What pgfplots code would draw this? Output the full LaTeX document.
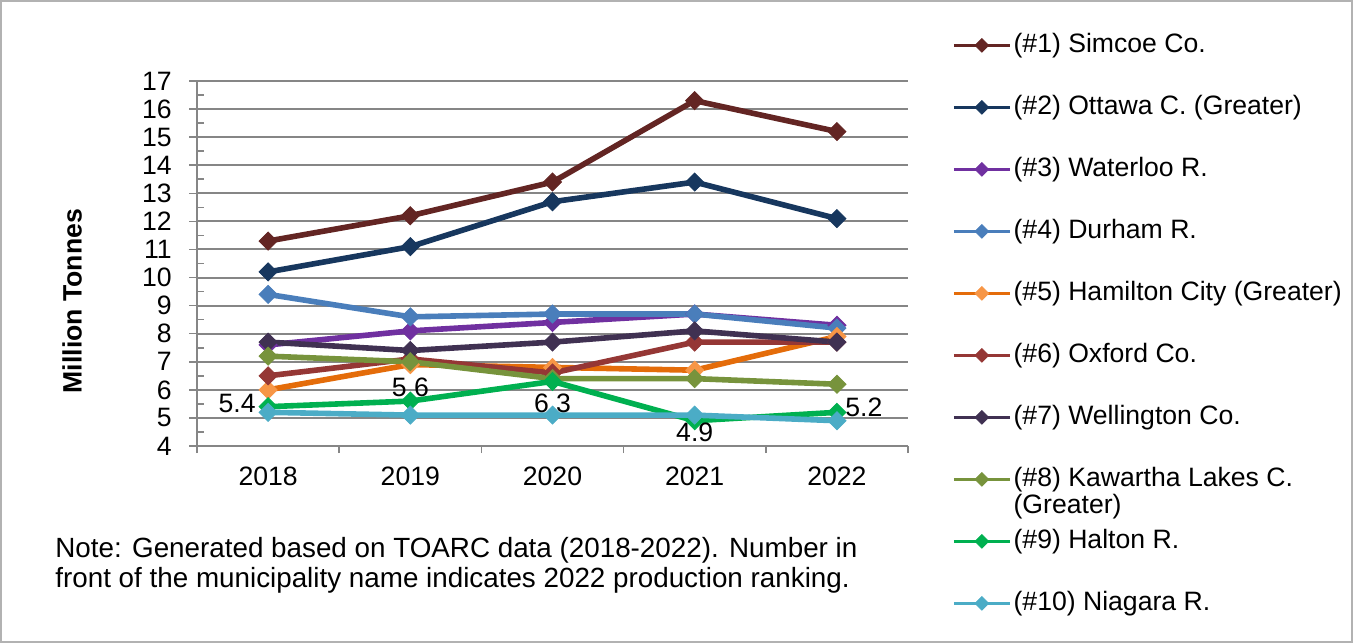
\documentclass[border=0pt]{standalone}
\usepackage{pgfplots}
\pgfplotsset{compat=1.18}
\usepackage{fontspec}
\setmainfont{Liberation Sans}
\definecolor{cA}{RGB}{99,37,35}
\definecolor{cB}{RGB}{23,55,94}
\definecolor{cC}{RGB}{112,48,160}
\definecolor{cD}{RGB}{74,126,187}
\definecolor{cE}{RGB}{228,108,10}
\definecolor{cEm}{RGB}{247,150,70}
\definecolor{cF}{RGB}{149,55,53}
\definecolor{cG}{RGB}{64,49,82}
\definecolor{cH}{RGB}{119,147,60}
\definecolor{cI}{RGB}{0,176,80}
\definecolor{cJ}{RGB}{75,172,198}
\definecolor{gridgray}{RGB}{134,134,134}
\begin{document}
\fontsize{13.3}{16}\selectfont
\begin{tikzpicture}
\path[use as bounding box] (0,0) rectangle (676.5pt,321.5pt);
\draw[color=gray!60, line width=0.75pt] (0.5pt,0.5pt) rectangle (676pt,321pt);
\begin{axis}[
  at={(98.5pt,98.5pt)}, anchor=south west,
  scale only axis, width=355.5pt, height=182.5pt,
  xmin=-0.5, xmax=4.5, ymin=4, ymax=17,
  axis x line=bottom, axis y line=left,
  axis line style={-, draw=gridgray, line width=1pt},
  xtick={0,1,2,3,4}, xticklabels={2018,2019,2020,2021,2022},
  major x tick style={draw=none},
  minor xtick={-0.5,0.5,1.5,2.5,3.5,4.5},
  ytick={4,5,...,17}, minor ytick={4.5,5.5,...,16.5},
  tick align=outside,
  major tick length=4pt, minor tick length=3.5pt,
  minor y tick style={xshift=3.5pt},
  tick style={draw=gridgray, line width=0.8pt},
  ymajorgrids, grid style={draw=gridgray, line width=1pt},
  /pgf/number format/assume math mode=true,
  ticklabel style={font=\fontsize{13.3}{16}\selectfont},
  xticklabel style={yshift=-2pt},
  yticklabel style={xshift=-4pt},
  ylabel={\bfseries Million Tonnes},
  ylabel style={at={(axis description cs:-0.1758,0.397)}, anchor=center, rotate=0},
  every axis plot/.append style={line width=2.8pt, mark=square*, mark size=3.2pt},
  legend style={at={(1.0619,1.1332)}, anchor=north west, draw=none, fill=none,
    inner sep=0pt, outer sep=0pt, row sep=18pt, column sep=1pt,
    nodes={inner sep=0pt, text height=10pt, text depth=3pt},
    font=\fontsize{13.3}{16}\selectfont},
  legend cell align=left,
  legend image code/.code={\draw[line width=1.8pt, mark size=2.4pt, mark repeat=2, mark phase=2] plot coordinates {(0pt,0pt) (14pt,0pt) (28pt,0pt)};},
  clip=false,
]
\addplot[color=cA, mark options={rotate=45, line width=0.4pt}] coordinates {(0,11.3) (1,12.2) (2,13.4) (3,16.3) (4,15.2)};
\addlegendentry{(\#1) Simcoe Co.}
\addplot[color=cB, mark options={rotate=45, line width=0.4pt}] coordinates {(0,10.2) (1,11.1) (2,12.7) (3,13.4) (4,12.1)};
\addlegendentry{(\#2) Ottawa C. (Greater)}
\addplot[color=cC, mark options={rotate=45, line width=0.4pt}] coordinates {(0,7.6) (1,8.1) (2,8.4) (3,8.7) (4,8.3)};
\addlegendentry{(\#3) Waterloo R.}
\addplot[color=cD, mark options={rotate=45, line width=0.4pt}] coordinates {(0,9.4) (1,8.6) (2,8.7) (3,8.7) (4,8.2)};
\addlegendentry{(\#4) Durham R.}
\addplot[color=cE, mark options={rotate=45, line width=0.4pt, draw=cEm, fill=cEm}] coordinates {(0,6.0) (1,6.9) (2,6.8) (3,6.7) (4,7.9)};
\addlegendentry{(\#5) Hamilton City (Greater)}
\addplot[color=cF, mark options={rotate=45, line width=0.4pt}] coordinates {(0,6.5) (1,7.1) (2,6.6) (3,7.7) (4,7.7)};
\addlegendentry{(\#6) Oxford Co.}
\addplot[color=cG, mark options={rotate=45, line width=0.4pt}] coordinates {(0,7.7) (1,7.4) (2,7.7) (3,8.1) (4,7.7)};
\addlegendentry{(\#7) Wellington Co.}
\addplot[color=cH, mark options={rotate=45, line width=0.4pt}] coordinates {(0,7.2) (1,7.0) (2,6.4) (3,6.4) (4,6.2)};
\addlegendentry{\begin{tabular}[t]{@{}l@{}}(\#8) Kawartha Lakes C.\\[-2.5pt](Greater)\end{tabular}}
\addplot[color=cI, mark options={rotate=45, line width=0.4pt}] coordinates {(0,5.4) (1,5.6) (2,6.3) (3,4.9) (4,5.2)};
\addlegendentry{(\#9) Halton R.}
\addplot[color=cJ, mark options={rotate=45, line width=0.4pt}] coordinates {(0,5.2) (1,5.1) (2,5.1) (3,5.1) (4,4.9)};
\addlegendentry{(\#10) Niagara R.}
\node[inner sep=0pt, xshift=-15.5pt, yshift=1.5pt] at (axis cs:0,5.4) {5.4};
\node[inner sep=0pt, yshift=7pt] at (axis cs:1,5.6) {5.6};
\node[inner sep=0pt, yshift=-10.8pt] at (axis cs:2,6.3) {6.3};
\node[inner sep=0pt, yshift=-5.6pt] at (axis cs:3,4.9) {4.9};
\node[inner sep=0pt, xshift=13.5pt, yshift=2.3pt] at (axis cs:4,5.2) {5.2};
\end{axis}
\node[anchor=west, align=left, inner sep=0pt, font=\fontsize{13.9}{15}\selectfont] at (27.5pt,39pt)
  {Note: Generated based on TOARC data (2018-2022). Number in\\front of the municipality name indicates 2022 production ranking.};
\end{tikzpicture}
\end{document}
